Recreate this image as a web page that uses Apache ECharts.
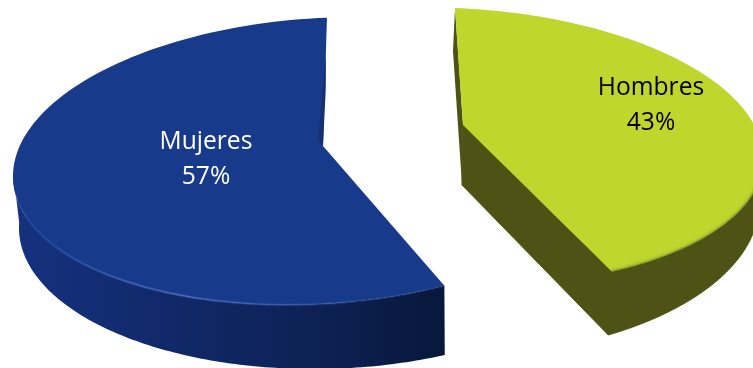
<!DOCTYPE html>
<html>
<head>
<meta charset="utf-8">
<style>html,body{margin:0;padding:0;background:#fff}#chart{width:753px;height:368px}</style>
<script src="https://cdn.jsdelivr.net/npm/echarts@6/dist/echarts.min.js"></script>
</head>
<body>
<div id="chart"></div>
<script>
// Gender split shown as an exploded, tilted 3D pie.
const categories = ['Mujeres', 'Hombres'];
const shares = [57, 43];

// Per-slice perspective: ellipse of the upper face, ellipse of the lower face,
// where the tip of the wedge falls, and how the view squeezes angles.
const slices = [
  {
    top: { cx: 320, cy: 161, rx: 307, ry: 143, ky: -15 },
    bottom: { cx: 322, cy: 224, rx: 303, ry: 145, ky: -4 },
    tip: { dx: 3, dy: -15 }, depth: 0,
    startAngle: 1.3, direction: -1, squeeze: 1,
    wallFrom: -88,
    face: '#183a8a',
    wall: [[0, '#15327f'], [0.35, '#11296a'], [0.7, '#0d2154'], [1, '#07183b']],
    rim: [[0, 'rgba(30,70,165,0)'], [0.06, 'rgba(30,70,165,0.9)'], [0.4, 'rgba(70,108,190,0.75)'], [0.75, 'rgba(50,85,165,0.45)'], [1, 'rgba(30,60,130,0.25)']],
    label: { x: 206, y: 159, color: '#ffffff' }
  },
  {
    top: { cx: 455, cy: 146, rx: 308, ry: 138, ky: 12 },
    bottom: { cx: 453, cy: 203.5, rx: 306, ry: 152.6, ky: 0 },
    tip: { dx: 8, dy: -21 }, depth: 60,
    startAngle: 0, direction: 1, squeeze: 0.82,
    wallFrom: 88,
    face: '#bfd62d',
    wall: [[0, '#4e5315'], [1, '#4e5315']],
    rim: [[0, 'rgba(160,178,40,0.7)'], [1, 'rgba(160,178,40,0.7)']],
    label: { x: 651, y: 105, color: '#000000' }
  }
];

const RAD = Math.PI / 180;
const degreesPerUnit = 360 / shares.reduce((a, b) => a + b, 0);

// Perspective remaps an angle on the disc without moving 0 or 180 degrees.
function warp(deg, k) {
  if (k === 1) return deg;
  return 2 * Math.atan(k * Math.tan(deg * RAD / 2)) / RAD;
}
function onEllipse(e, deg) {
  const s = Math.sin(deg * RAD), c = Math.cos(deg * RAD);
  return [e.cx + e.rx * s, e.cy - e.ry * c + e.ky * s];
}
function arc(e, from, to, k) {
  const pts = [], n = 120;
  for (let i = 0; i <= n; i++) {
    pts.push(onEllipse(e, warp(from + (to - from) * i / n, k)));
  }
  return pts;
}
function horizontalGradient(x0, x1, stops) {
  return new echarts.graphic.LinearGradient(x0, 0, x1, 0,
    stops.map(s => ({ offset: s[0], color: s[1] })), true);
}

function renderSlice(params, api) {
  const cfg = slices[params.dataIndex];
  const value = api.value(0);
  const sweep = value * degreesPerUnit * cfg.direction;
  const a0 = cfg.startAngle, a1 = a0 + sweep;
  const k = cfg.squeeze;
  const tipTop = [cfg.top.cx + cfg.tip.dx, cfg.top.cy + cfg.tip.dy];
  const topArc = arc(cfg.top, a0, a1, k);
  const children = [];
  const xFrom = onEllipse(cfg.top, cfg.wallFrom)[0];
  const xTo = onEllipse(cfg.top, warp(a1, k))[0];
  const fillWall = horizontalGradient(xFrom, xTo, cfg.wall);
  const seam = cfg.wall[0][1];

  // outer curved wall
  const wallTop = arc(cfg.top, cfg.wallFrom, a1, k);
  const wallBottom = arc(cfg.bottom, cfg.wallFrom, a1, k).reverse();
  children.push({ type: 'polygon', shape: { points: wallTop.concat(wallBottom) },
    style: cfg.depth ? { fill: fillWall, stroke: seam, lineWidth: 1 } : { fill: fillWall } });

  // straight walls seen through the gap between the two wedges
  if (cfg.depth) {
    const tipBottom = [tipTop[0] - 1, tipTop[1] + cfg.depth];
    children.push({ type: 'polygon', shape: { points: [
      topArc[topArc.length - 1], onEllipse(cfg.bottom, warp(a1, k)), tipBottom, tipTop
    ] }, style: { fill: seam, stroke: seam, lineWidth: 1 } });
    children.push({ type: 'polygon', shape: { points: [
      topArc[0], tipTop, tipBottom, onEllipse(cfg.bottom, warp(a0, k))
    ] }, style: { fill: seam } });
  }

  // upper face
  children.push({ type: 'polygon', shape: { points: [tipTop].concat(topArc) }, style: { fill: cfg.face } });

  // inner sliver where the back edge folds away from the viewer
  if (!cfg.depth) {
    const s = topArc[0];
    children.push({ type: 'polygon', shape: { points: [
      [tipTop[0] + (s[0] - tipTop[0]) * 0.72, tipTop[1] + (s[1] - tipTop[1]) * 0.72],
      [tipTop[0] - 5, tipTop[1] - 6],
      tipTop,
      [tipTop[0] + (s[0] - tipTop[0]) * 0.45 + 1, tipTop[1] + (s[1] - tipTop[1]) * 0.45]
    ] }, style: { fill: '#17306f' } });
  }

  // soft bevel along the front of the rim
  const rimFill = horizontalGradient(xFrom, xTo, cfg.rim);
  children.push({ type: 'polyline', shape: { points: wallTop }, style: {
    fill: null, stroke: rimFill, lineWidth: 2, shadowBlur: 3, shadowColor: 'rgba(40,70,120,0.35)'
  } });

  // share label
  children.push({ type: 'text', style: {
    x: cfg.label.x, y: cfg.label.y,
    text: categories[params.dataIndex] + '\n' + value + '%',
    font: '24.6px "Open Sans"', lineHeight: 35, fill: cfg.label.color,
    align: 'center', verticalAlign: 'middle'
  }, z2: 10 });

  return { type: 'group', children };
}

const chart = echarts.init(document.getElementById('chart'), null, { renderer: 'canvas' });
chart.setOption({
  animation: false,
  backgroundColor: '#ffffff',
  series: [{
    type: 'custom',
    coordinateSystem: 'none',
    renderItem: renderSlice,
    data: shares.map(v => [v]),
    silent: true
  }]
});
</script>
</body>
</html>
